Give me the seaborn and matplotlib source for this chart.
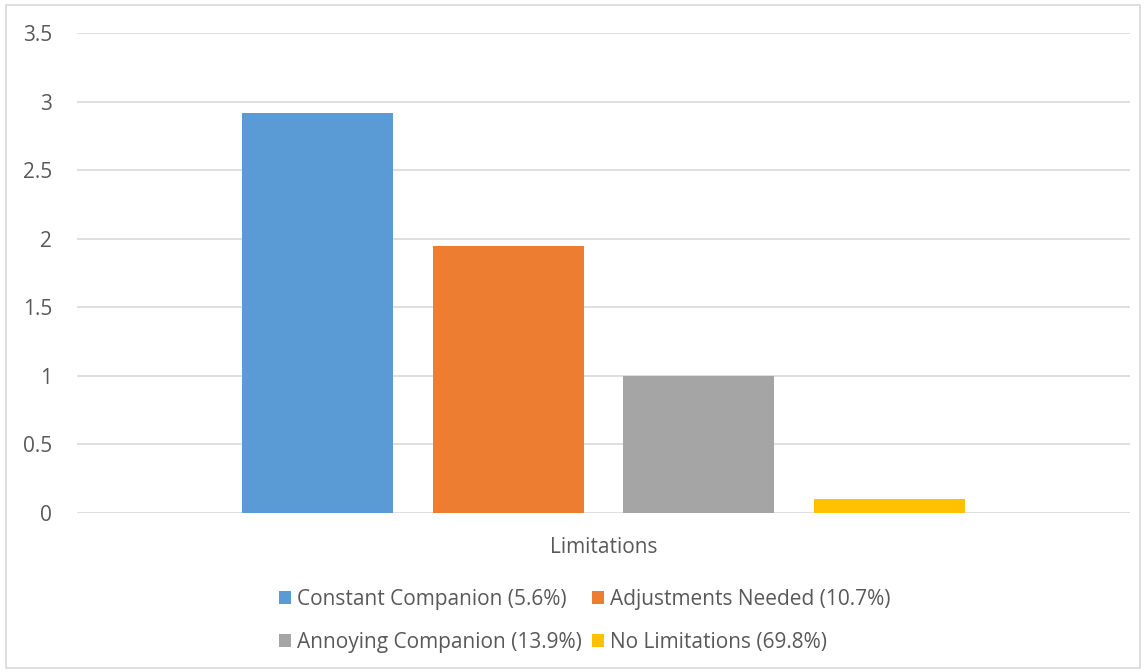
import matplotlib
matplotlib.use("Agg")
import matplotlib.pyplot as plt
import seaborn as sns
import pandas as pd
from matplotlib.patches import Rectangle

# Chart data
category = ["Limitations"]
series = [
    "Constant Companion (5.6%)",
    "Adjustments Needed (10.7%)",
    "Annoying Companion (13.9%)",
    "No Limitations (69.8%)",
]
values = [2.92, 1.95, 1.0, 0.1]
colors = ["#5B9BD5", "#ED7D31", "#A5A5A5", "#FFC000"]
yticks = [0, 0.5, 1, 1.5, 2, 2.5, 3, 3.5]
ytick_labels = ["0", "0.5", "1", "1.5", "2", "2.5", "3", "3.5"]

sns.set_theme(style="white")
plt.rcParams["font.family"] = ["Open Sans", "DejaVu Sans"]
FS = 15

df = pd.DataFrame({
    "category": category * len(series),
    "series": series,
    "value": values,
})

W, H = 1145, 672
fig = plt.figure(figsize=(W / 100, H / 100), dpi=100)
fig.patch.set_facecolor("white")

# outer chart frame
fig.patches.append(Rectangle((6 / W, 1 - 668 / H), (1140 - 6) / W, (668 - 5) / H,
                             transform=fig.transFigure, fill=False,
                             edgecolor="#D9D9D9", linewidth=1.2))

ax = fig.add_axes([77 / W, 1 - 513 / H, (1130 - 77) / W, (513 - 33) / H])
sns.barplot(data=df, x="category", y="value", hue="series", palette=colors,
            width=0.7245, gap=0.208, saturation=1, errorbar=None,
            linewidth=0, ax=ax)

ax.set_xlim(-0.5, 0.5)
ax.set_ylim(0, 3.5)
ax.set_yticks(yticks)
ax.set_yticklabels(ytick_labels)
ax.set_xlabel("")
ax.set_ylabel("")
ax.yaxis.grid(True, color="#D9D9D9", linewidth=1.2)
ax.set_axisbelow(True)
for s in ax.spines.values():
    s.set_visible(False)
ax.tick_params(axis="y", length=0, pad=18, labelsize=FS, labelcolor="#595959")
ax.tick_params(axis="x", length=0, pad=17, labelsize=FS, labelcolor="#595959")

handles, labels = ax.get_legend_handles_labels()
ax.legend_.remove()
order = [0, 2, 1, 3]
fig.legend([handles[i] for i in order], [labels[i] for i in order],
           ncol=2, loc="center", bbox_to_anchor=(585 / W, 1 - 621 / H),
           frameon=False, fontsize=FS, labelcolor="#595959",
           handlelength=0.55, handleheight=0.55, handletextpad=0.3,
           columnspacing=0.5, labelspacing=1.05)

fig.savefig("out.png", dpi=100, facecolor="white")
